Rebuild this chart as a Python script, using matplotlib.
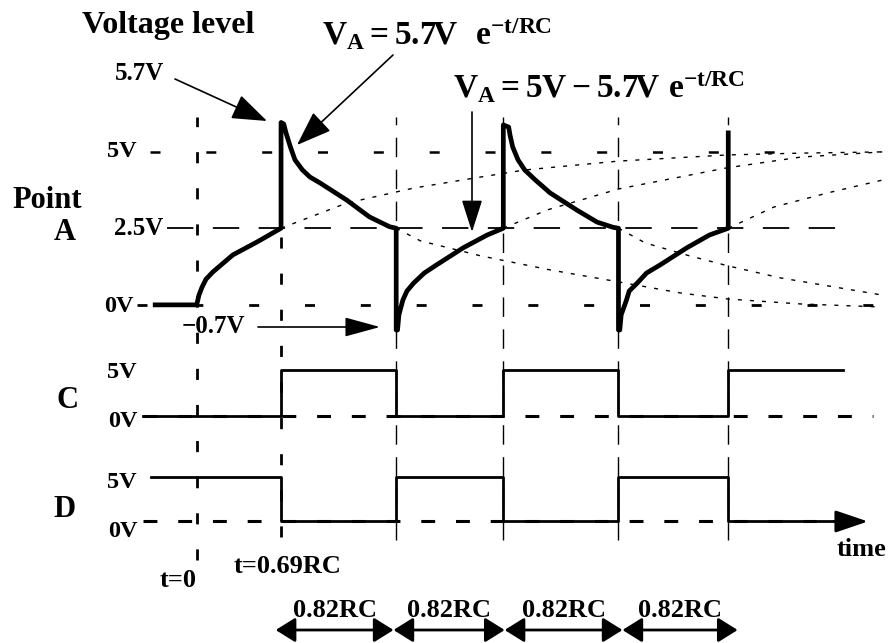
import matplotlib.pyplot as plt
from matplotlib import transforms

plt.rcParams['font.family'] = 'Liberation Serif'
plt.rcParams['font.weight'] = 'bold'
plt.rcParams['mathtext.fontset'] = 'custom'
plt.rcParams['mathtext.rm'] = 'Liberation Serif:bold'
plt.rcParams['mathtext.it'] = 'Liberation Serif:bold'
plt.rcParams['mathtext.bf'] = 'Liberation Serif:bold'
plt.rcParams['mathtext.default'] = 'rm'
plt.rcParams['lines.scale_dashes'] = False

# switching instants as drawn (time in RC)
edges = [0, 0.63, 1.49, 2.29, 3.15, 3.97]

# point A (t in RC, volts)
a_t = [-0.31, 0, 0.017, 0.04, 0.07, 0.12, 0.27, 0.45, 0.63,
       0.63, 0.65, 0.667, 0.70, 0.734, 0.79, 0.846, 0.92, 1.12, 1.29, 1.44, 1.49,
       1.49, 1.50, 1.51, 1.54, 1.57, 1.62, 1.70, 1.79, 1.99, 2.17, 2.29,
       2.29, 2.33, 2.34, 2.36, 2.40, 2.45, 2.53, 2.64, 2.84, 2.99, 3.11, 3.15,
       3.15, 3.16, 3.17, 3.21, 3.23, 3.29, 3.36, 3.46, 3.66, 3.83, 3.97,
       3.97]
a_v = [0, 0, 0.32, 0.58, 0.84, 1.07, 1.63, 2.05, 2.5,
       5.95, 5.90, 5.61, 5.15, 4.73, 4.40, 4.17, 3.98, 3.42, 2.87, 2.55, 2.5,
       -0.82, -0.82, -0.33, 0.16, 0.45, 0.71, 1.04, 1.30, 1.86, 2.28, 2.5,
       5.87, 5.80, 5.54, 5.15, 4.73, 4.40, 4.07, 3.65, 3.09, 2.70, 2.53, 2.5,
       -0.82, -0.82, -0.33, 0.16, 0.45, 0.71, 1.04, 1.30, 1.86, 2.28, 2.5,
       5.61]

# dotted continuations of the exponentials
guide_t = [
    [0.63, 1.12, 1.62, 2.12, 2.45, 3.15, 3.96, 4.51, 5.12],
    [1.49, 1.67, 2.12, 2.64, 3.15, 3.61, 3.97, 4.51, 5.12],
    [2.29, 2.62, 3.15, 3.96, 4.51, 5.12],
    [3.15, 3.35, 3.68, 3.97, 4.36, 5.12],
    [3.97, 4.31, 4.71, 5.12],
]
guide_v = [
    [2.5, 3.32, 3.81, 4.17, 4.40, 4.69, 4.89, 4.95, 4.99],
    [2.5, 2.09, 1.60, 1.14, 0.75, 0.39, 0.19, 0.03, -0.07],
    [2.5, 3.10, 3.78, 4.47, 4.82, 4.99],
    [2.5, 2.02, 1.60, 1.27, 0.88, 0.32],
    [2.5, 3.19, 3.65, 4.07],
]

# points C and D
c_t = [-0.40, 0.63, 1.49, 2.29, 3.15, 3.97, 4.83]
c_v = [0, 5, 0, 5, 0, 5]
d_t = [-0.34, 0.63, 1.49, 2.29, 3.15, 3.97, 4.75]
d_v = [5, 0, 5, 0, 5, 0]

# 0.82RC intervals marked under the diagram
span_t = [0.59, 1.47, 2.30, 3.18, 4.04]
span_label = '0.82RC'

fig = plt.figure(figsize=(8.88, 6.43), dpi=100)

# layout axes in pixels for the free text
lay = fig.add_axes([0, 0, 1, 1])
lay.set_xlim(0, 888)
lay.set_ylim(643, 0)
lay.axis('off')


def panel(lo, hi):
    ax = fig.add_axes([0, 0, 1, 1])
    ax.set_xlim(-1.469, 5.163)
    ax.set_ylim(lo, hi)
    ax.axis('off')
    return ax


axA = panel(-11.03, 9.945)
axC = panel(-24.62, 45.27)
axD = panel(-13.81, 59.26)

# vertical markers at the switching instants
for i, t in enumerate(edges):
    if i == 0:
        axA.axvline(t, 0.129, 0.818, color='k', lw=2, dashes=(8, 18))
    elif i == 1:
        axA.axvline(t, 0.165, 0.818, color='k', lw=2, dashes=(8, 18))
    else:
        axA.axvline(t, 0.160, 0.818, color='k', lw=1, dashes=(14, 9))

# reference levels of A
axA.plot([-0.348, 4.334], [5, 5], color='k', lw=1.8, dashes=(7.2, 33))
axA.plot([-0.221, 4.90], [2.5, 2.5], color='k', lw=1.3, dashes=(19, 14))
axA.plot([-0.446, 5.10], [0, 0], color='k', lw=2, dashes=(7.2, 33))

for gt, gv in zip(guide_t, guide_v):
    axA.plot(gt, gv, color='k', lw=1, dashes=(2.9, 5.8))

axA.plot(a_t, a_v, color='k', lw=3.4, solid_joinstyle='round')

# C and D
axC.plot([-0.401, 5.05], [0, 0], color='k', lw=2.2, dashes=(10, 15))
axC.step(c_t, c_v + [c_v[-1]], where='post', color='k', lw=2)
axD.plot([-0.401, 4.80], [0, 0], color='k', lw=2.2, dashes=(10, 15))
axD.step(d_t, d_v + [d_v[-1]], where='post', color='k', lw=2)
axD.annotate('', xy=(5.013, 0), xytext=(4.76, 0),
             arrowprops=dict(arrowstyle='-|>,head_length=0.5,head_width=0.17',
                             mutation_scale=40, color='k', lw=2,
                             shrinkA=0, shrinkB=0))

# labels
big = 22
mid = 19
small = 17.5
lay.text(82, 33, 'Voltage level', fontsize=23, va='baseline')
lay.text(322, 45, r'$V_A = 5.7V\ \ e^{-t/RC}$', fontsize=24, va='baseline')
lay.text(453, 98, r'$V_A = 5V - 5.7V\ e^{-t/RC}$', fontsize=24, va='baseline')
lay.text(115, 80, '5.7V', fontsize=18, va='baseline')
lay.text(12, 208, 'Point', fontsize=big, va='baseline')
lay.text(65, 240, 'A', fontsize=big, va='baseline', ha='center')
lay.text(137, 157, '5V', fontsize=small, va='baseline', ha='right')
lay.text(163, 235, '2.5V', fontsize=18, va='baseline', ha='right')
lay.text(134, 312, '0V', fontsize=small, va='baseline', ha='right')
lay.text(182, 333, '\u22120.7V', fontsize=18, va='baseline')

lay.text(137, 378, '5V', fontsize=small, va='baseline', ha='right')
lay.text(67, 408, 'C', fontsize=big, va='baseline', ha='center')
lay.text(138, 427, '0V', fontsize=small, va='baseline', ha='right')
lay.text(137, 488, '5V', fontsize=small, va='baseline', ha='right')
lay.text(64, 517, 'D', fontsize=big, va='baseline', ha='center')
lay.text(138, 537, '0V', fontsize=small, va='baseline', ha='right')

lay.text(160, 587, 't=0', fontsize=mid, va='baseline')
lay.text(234, 573, 't=0.69RC', fontsize=mid, va='baseline')
lay.text(837, 556, 'time', fontsize=mid, va='baseline')

# pointer arrows
def pointer(tip, tail, hl=0.55, hw=0.2):
    lay.annotate('', xy=tip, xytext=tail,
                 arrowprops=dict(arrowstyle='-|>,head_length=%g,head_width=%g' % (hl, hw),
                                 mutation_scale=40, color='k', lw=1.2,
                                 shrinkA=0, shrinkB=0))


pointer((267, 121), (175, 79))
pointer((297, 145), (393, 55))
pointer((380, 327), (258, 327), hw=0.15)
pointer((472, 232), (472, 112), hl=0.5, hw=0.16)

# interval arrows, x in time, y in pixels
blend = transforms.blended_transform_factory(axA.transData, lay.transData)
for t1, t2 in zip(span_t[:-1], span_t[1:]):
    lay.annotate('', xy=(t2, 630), xytext=(t1, 630),
                 xycoords=blend, textcoords=blend,
                 arrowprops=dict(arrowstyle='<|-|>,head_length=0.4,head_width=0.25',
                                 mutation_scale=30, color='k', lw=2,
                                 shrinkA=0, shrinkB=0))
    lay.text((t1 + t2) / 2, 617, span_label, transform=blend,
             fontsize=mid, ha='center', va='baseline')

fig.savefig('out.png', dpi=100)
